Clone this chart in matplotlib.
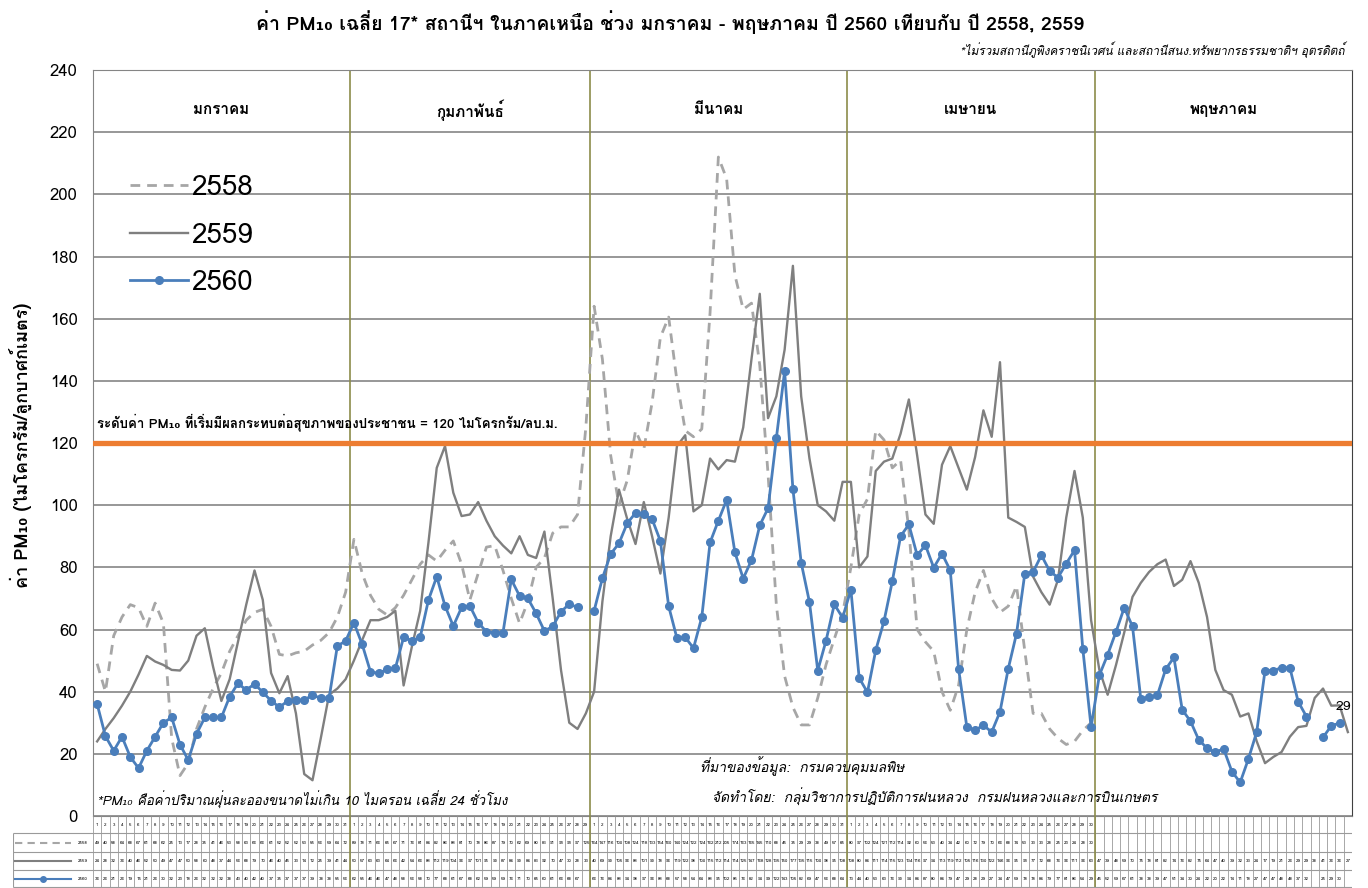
import numpy as np
import matplotlib
matplotlib.use('Agg')
import matplotlib.pyplot as plt
from matplotlib import font_manager
from matplotlib.ft2font import FT2Font

W, H = 1368, 888

YEARS = ['2558', '2559', '2560']
MONTHS = ['มกราคม', 'กุมภาพันธ์', 'มีนาคม', 'เมษายน', 'พฤษภาคม']
MONTH_DAYS = [31, 29, 31, 30, 31]  # ช่องวันบนแกน x (ก.พ. 29 ช่อง)
LABELED_MONTHS = 4  # แถวหัวตาราง มีเลขวันถึง เม.ย.
THRESHOLD = 120

# 1 ม.ค. - 30 เม.ย.
PM_2558 = [49, 40, 58, 64, 68, 67, 61, 68.5, 62, 25,
           13, 17, 28, 35, 41, 46, 53, 58, 63, 65.5,
           66.5, 61, 52, 51.5, 52.5, 53, 55, 56.5, 59, 64,
           72, 89, 78, 71, 66.5, 64.7, 67, 71, 76, 81,
           84, 82, 85.5, 88.5, 81, 69.5, 78, 86.5, 87, 79,
           70, 62, 69, 80, 83, 91, 93, 93, 97, 125,
           164, 147, 116, 100, 108, 124, 118, 133, 154, 160.5,
           140, 124, 122, 124.5, 162, 212, 205, 174, 163, 165,
           145, 110, 68, 45, 35, 29.3, 29.3, 38, 48.7, 57,
           65, 80, 97, 102, 124, 121, 112, 114.5, 92, 60,
           56, 53, 40, 34, 42, 60, 72, 79, 70, 65.5,
           67.5, 74, 53, 33, 33, 28, 25, 23, 24, 27.5, 30]

# 1 ม.ค. - 31 พ.ค. (ปีอธิกสุรทิน)
PM_2559 = [24, 28, 31.5, 35.5, 40, 45.5, 51.5, 49.7, 48.6, 47,
           46.8, 50, 58, 60.4, 48, 37, 44, 56, 68, 79,
           69.5, 46, 39.5, 45, 33, 13.5, 11.5, 25, 39, 41,
           44, 50, 56.6, 63, 63, 64, 66, 42, 54.5, 66,
           88, 112, 119, 104, 96.5, 97, 101, 95, 90, 87,
           84.5, 90, 84, 83, 91.5, 70, 47, 30, 28, 33,
           40, 69, 90, 105, 95.5, 87.5, 101, 90, 78, 96,
           119, 122.5, 98, 100, 115, 111.5, 114.5, 114, 125, 147,
           168, 128, 135, 150, 177, 135, 115, 100, 98, 95,
           107.5, 107.5, 80, 83.5, 111, 114, 115, 123, 134, 116,
           97, 94, 113, 119, 112, 105, 115.5, 130.5, 122, 146,
           96, 94.6, 93, 77, 72, 68, 76, 96, 111, 96,
           63, 47, 39, 48.5, 59, 70.5, 75, 78.5, 81, 82.5,
           74, 76, 82, 75, 64, 47, 40.5, 39, 32, 33,
           24, 17, 19, 20.6, 25.5, 28.6, 29, 38, 41, 35.5, 35.6, 27]

# None = ไม่มีข้อมูล
PM_2560 = [36, 25.7, 21, 25.5, 19, 15.4, 21, 25.5, 30, 31.7,
           23, 18, 26.4, 31.7, 31.7, 31.7, 38.4, 42.7, 40.5, 42.5,
           39.8, 37.1, 35, 37, 37.3, 37.3, 38.9, 37.9, 37.9, 54.7,
           56.3, 62.2, 55.2, 46.4, 45.9, 47.2, 47.5, 57.5, 56.4, 57.5,
           69.5, 77, 67.6, 61.1, 67.1, 67.6, 62.2, 59.3, 59, 59,
           76.1, 70.8, 70, 65.2, 59.5, 61, 65.7, 68.2, 67.1, None,
           66, 76.5, 84.3, 87.7, 94.2, 97.5, 97, 95.5, 88.5, 67.5,
           57.2, 57.5, 54, 64, 88, 95, 101.7, 84.8, 76.4, 82.3,
           93.5, 99, 121.5, 143.1, 105.2, 81.5, 68.8, 46.8, 56.4, 68.1,
           63.8, 72.8, 44.4, 39.8, 53.3, 62.7, 75.5, 90, 93.8, 83.9,
           87.1, 79.9, 84.4, 79, 47.4, 28.6, 27.6, 29.2, 27, 33.5,
           47.4, 58.7, 78, 78.5, 83.9, 78.8, 76.7, 81.2, 85.5, 53.8,
           28.6, 45.3, 51.9, 59.2, 67, 61, 37.7, 38.2, 38.8, 47.2,
           51, 34.2, 30.5, 24.5, 21.8, 20.5, 21.6, 14.3, 10.8, 18.4,
           27.1, 46.8, 46.8, 47.7, 47.7, 36.8, 32, None, 25.3, 29, 29.9, None]


def find_thai_font():
    # หาฟอนต์ที่มีอักษรไทย
    for f in font_manager.fontManager.ttflist:
        try:
            if 0x0E01 in FT2Font(f.fname).get_charmap():
                return f.name
        except Exception:
            pass
    return None


def to_arr(vals):
    return np.array([np.nan if v is None else v for v in vals], dtype=float)


thai = find_thai_font()
plt.rcParams['font.family'] = ([thai] if thai else []) + ['DejaVu Sans']

n_cat = sum(MONTH_DAYS)
bounds = np.cumsum(MONTH_DAYS)[:-1] + 0.5
centers = np.cumsum(MONTH_DAYS) - np.array(MONTH_DAYS) / 2 + 0.5

fig = plt.figure(figsize=(W / 100, H / 100), dpi=100)
ax = fig.add_axes([93 / W, 1 - 816 / H, (1352 - 93) / W, (816 - 70) / H])
ax.set_xlim(0.5, n_cat + 0.5)
ax.set_ylim(0, 240)
ax.set_yticks(range(0, 241, 20))
ax.set_xticks([])
ax.tick_params(axis='y', length=0, pad=11, labelsize=12)
ax.grid(axis='y', color='#858585', lw=1.2)
ax.set_axisbelow(True)
for s in ['left', 'bottom', 'top']:
    ax.spines[s].set_color('#858585')
ax.spines['right'].set_color('#404040')

olive = '#8c8c4a'
for b in bounds:
    ax.axvline(b, color=olive, lw=1.2, zorder=1.5)

ax.axhline(THRESHOLD, color='#ed7d31', lw=3.8, zorder=4)

l58, = ax.plot(np.arange(1, len(PM_2558) + 1), PM_2558, color='#a6a6a6',
               lw=2, dashes=(3.5, 2.5), zorder=2, label=YEARS[0])
l59, = ax.plot(np.arange(1, len(PM_2559) + 1), PM_2559, color='#7f7f7f',
               lw=1.7, zorder=3, label=YEARS[1])
l60, = ax.plot(np.arange(1, len(PM_2560) + 1), to_arr(PM_2560), color='#4a7ebb',
               lw=2, marker='o', ms=5.5, zorder=5, label=YEARS[2])

ax.legend(handles=[l58, l59, l60], loc='upper left', bbox_to_anchor=(116 / W, 1 - 161 / H),
          bbox_transform=fig.transFigure, frameon=False, fontsize=20,
          handlelength=2.1, handletextpad=0.1, labelspacing=0.78, borderpad=0)

for c, m in zip(centers, MONTHS):
    ax.text(c, 227, m, ha='center', va='center', fontsize=11, fontweight='bold')

ax.text(1, 124, 'ระดับค่า PM₁₀ ที่เริ่มมีผลกระทบต่อสุขภาพของประชาชน = 120 ไมโครกรัม/ลบ.ม.',
        fontsize=9.5, fontweight='bold', va='bottom')
ax.text(n_cat - 0.6, 33, '29', fontsize=10, va='bottom', ha='center', zorder=6)

ax.text(0.003, 0.021, '*PM₁₀ คือค่าปริมาณฝุ่นละอองขนาดไม่เกิน 10 ไมครอน เฉลี่ย 24 ชั่วโมง',
        transform=ax.transAxes, fontsize=9.5, fontstyle='italic', va='center')
ax.text(0.482, 0.067, 'ที่มาของข้อมูล:  กรมควบคุมมลพิษ',
        transform=ax.transAxes, fontsize=10, fontstyle='italic', va='center')
ax.text(0.492, 0.025, 'จัดทำโดย:  กลุ่มวิชาการปฏิบัติการฝนหลวง  กรมฝนหลวงและการบินเกษตร',
        transform=ax.transAxes, fontsize=10, fontstyle='italic', va='center')

fig.text(670 / W, 1 - 22 / H,
         'ค่า PM₁₀ เฉลี่ย 17* สถานีฯ ในภาคเหนือ ช่วง มกราคม - พฤษภาคม ปี 2560 เทียบกับ ปี 2558, 2559',
         ha='center', va='center', fontsize=14, fontweight='bold')
fig.text(1345 / W, 1 - 50 / H,
         '*ไม่รวมสถานีภูพิงคราชนิเวศน์ และสถานีสนง.ทรัพยากรธรรมชาติฯ อุตรดิตถ์',
         ha='right', va='center', fontsize=8.5, fontstyle='italic')
fig.text(20 / W, 1 - 445 / H, 'ค่า PM₁₀ (ไมโครกรัม/ลูกบาศก์เมตร)', rotation=90,
         ha='center', va='center', fontsize=13, fontweight='bold')

# ตารางข้อมูลใต้กราฟ
px_per_cat = (1352 - 93) / n_cat
left = 0.5 - 80 / px_per_cat
tax = fig.add_axes([13 / W, 0, (1352 - 13) / W, 72 / H])
tax.set_xlim(left, n_cat + 0.5)
tax.set_ylim(72, 0)
tax.axis('off')

rows = [0, 17, 36, 54, 71]
grid_c = '#9a9a9a'
tax.vlines(np.arange(0.5, n_cat + 1.5, 1), 0, 71, color=grid_c, lw=0.6)
tax.hlines(rows[1:], left, n_cat + 0.5, color=grid_c, lw=0.8)
tax.vlines(left + 0.05, rows[1], 71, color=grid_c, lw=0.8)
tax.vlines(bounds, 0, 71, color=olive, lw=1.2)

day_labels = []
for k, d in enumerate(MONTH_DAYS):
    day_labels += [str(j + 1) if k < LABELED_MONTHS else '' for j in range(d)]
for c, lab in enumerate(day_labels, start=1):
    tax.text(c, (rows[0] + rows[1]) / 2, lab, ha='center', va='center', fontsize=3.2)

styles = [dict(color='#a6a6a6', lw=1.5, dashes=(3.5, 2.5)),
          dict(color='#7f7f7f', lw=1.5),
          dict(color='#4a7ebb', lw=1.5, marker='o', ms=4, markevery=[1])]
for r, (vals, st, yr) in enumerate(zip([PM_2558, PM_2559, PM_2560], styles, YEARS)):
    yc = (rows[r + 1] + rows[r + 2]) / 2
    tax.plot([left + 0.3, left + 3.6, left + 7.0], [yc, yc, yc], clip_on=False, **st)
    tax.text(left + 8.4, yc, yr, ha='center', va='center', fontsize=3.2)
    for c, v in enumerate(vals, start=1):
        if v is not None:
            tax.text(c, yc, str(int(round(v))), ha='center', va='center', fontsize=3.2)

fig.savefig('out.png', dpi=100)
